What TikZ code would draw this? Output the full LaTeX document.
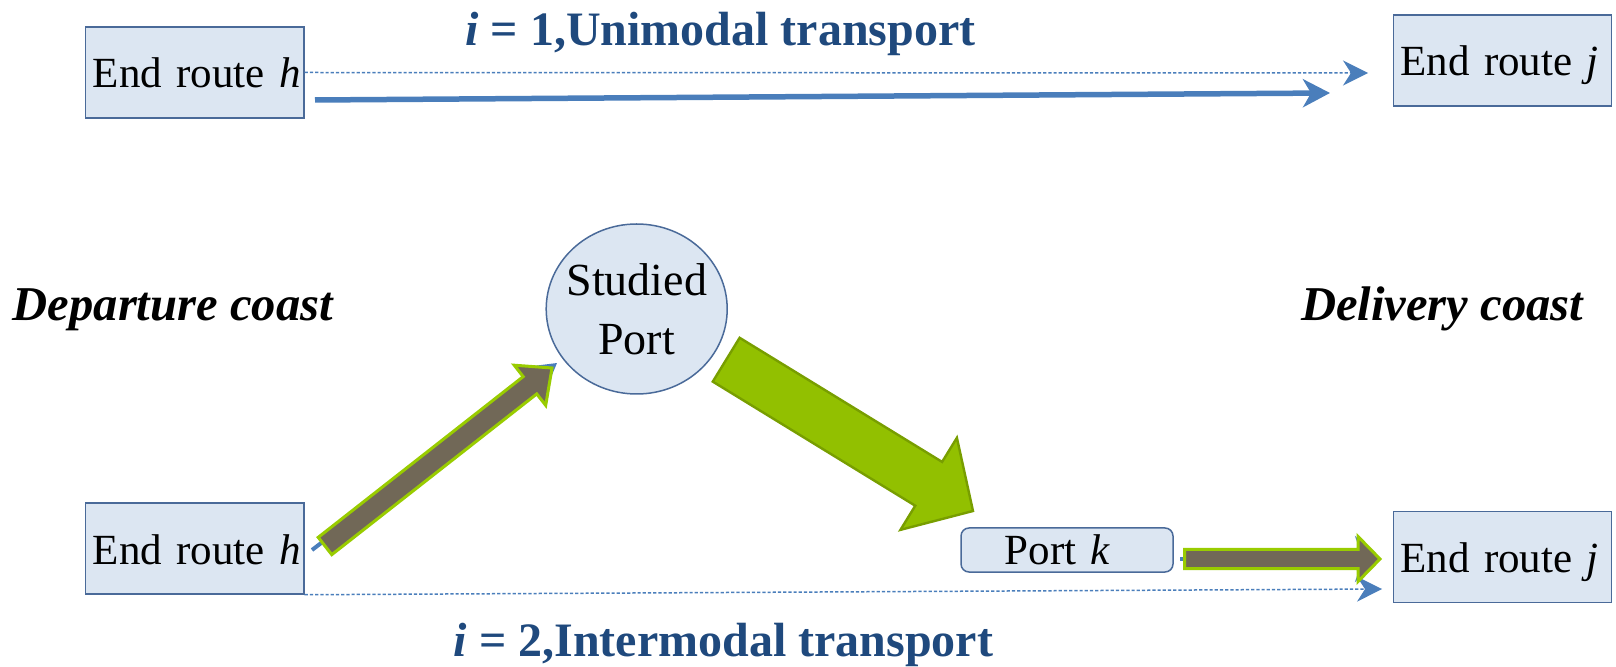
\documentclass[tikz,border=0pt]{standalone}
\usepackage{fontspec}
\setmainfont{Liberation Serif}[UprightFont=*, BoldFont=* Bold,
  ItalicFont=* Italic, BoldItalicFont=* Bold Italic]
\usetikzlibrary{calc,arrows.meta,shapes.geometric}

\definecolor{boxfill}{HTML}{DCE6F2}
\definecolor{boxline}{HTML}{4A6A99}
\definecolor{routeblue}{HTML}{4A7EBB}
\definecolor{titleblue}{HTML}{1F497D}
\definecolor{legbrown}{HTML}{716857}
\definecolor{leggreen}{HTML}{99CC00}
\definecolor{hubgreen}{HTML}{92C000}
\definecolor{hubedge}{HTML}{789E00}

% block arrow: style, tail, tip, half shaft width, half head width, head length
\newcommand\blockarrow[6]{%
  \coordinate (ba-base) at ($(#3)!#6!(#2)$);
  \draw[#1] ($(#2)!#4!90:(#3)$) -- ($(ba-base)!#4!90:(#3)$)
    -- ($(ba-base)!#5!90:(#3)$) -- (#3)
    -- ($(ba-base)!#5!-90:(#3)$) -- ($(ba-base)!#4!-90:(#3)$)
    -- ($(#2)!#4!-90:(#3)$) -- cycle;}

\tikzset{
  routebox/.style={draw=boxline, fill=boxfill, line width=0.75pt,
    minimum height=45.5pt, text width=102pt, align=left,
    inner xsep=3.6pt, inner ysep=0pt, text height=16pt, text depth=0.5pt,
    font=\fontsize{21.5}{24}\selectfont},
  portbox/.style={draw=boxline, fill=boxfill, line width=0.75pt,
    rounded corners=4pt, minimum height=22pt, text width=62.4pt,
    align=left, inner xsep=21.8pt, inner ysep=0pt, text height=15.5pt,
    text depth=0.5pt, font=\fontsize{21.5}{24}\selectfont},
  hub/.style={draw=boxline, fill=boxfill, line width=0.75pt, ellipse,
    minimum width=90.5pt, minimum height=85pt, inner sep=0pt},
  hubtext/.style={inner sep=0pt, align=center,
    font=\fontsize{23}{29.5}\selectfont},
  titletext/.style={anchor=base west, inner sep=0pt, text=titleblue,
    font=\fontsize{24}{28}\selectfont\bfseries},
  coast/.style={anchor=base west, inner sep=0pt,
    font=\fontsize{24.3}{28}\selectfont\bfseries\itshape},
  dotroute/.style={routeblue, line width=0.75pt, dash pattern=on 1.6pt off 1pt,
    -{Stealth[length=12.5pt, width=12.5pt, inset=4pt]}},
  mainroute/.style={routeblue, line width=2.75pt,
    -{Stealth[length=13.5pt, width=14pt, inset=4pt]}},
  legarrow/.style={fill=legbrown, draw=leggreen, line width=1.5pt},
  hubarrow/.style={fill=hubgreen, draw=hubedge, line width=1.2pt},
}

\begin{document}
\begin{tikzpicture}[x=0.5pt, y=-0.5pt]
\useasboundingbox (0,0) rectangle (1616,667);

% unimodal case
\node[routebox] (h1) at (194.75,72.5) {\mbox{End route \textit{h}}};
\node[routebox] (j1) at (1502.5,60.5) {\mbox{End route \textit{j}}};
\node[titletext] (t1) at (465,46) {\textit{i} = 1,Unimodal transport};
\coordinate (d1) at (1368,73);
\coordinate (m1s) at (315,100);
\coordinate (m1e) at (1330,93);
\draw[dotroute] (h1.east) -- (d1);
\draw[mainroute] (m1s) -- (m1e);

% intermodal case
\node[coast] (dep) at (12.4,321) {Departure coast};
\node[coast] (del) at (1300.6,321) {Delivery coast};
\node[hub] (sp) at (636.7,309) {};
\node[hubtext] (spt) at (sp.center) {Studied\\Port};
\node[routebox] (h2) at (194.75,548.5) {\mbox{End route \textit{h}}};
\node[routebox] (j2) at (1502.5,557) {\mbox{End route \textit{j}}};
\node[portbox] (pk) at (1067,550) {\mbox{Port \textit{k}}};
\node[titletext] (t2) at (453.5,656) {\textit{i} = 2,Intermodal transport};

\coordinate (d2) at (1382,589);
\draw[dotroute] (h2.south east) -- (d2);

% feeder legs (line routes under the block arrows)
\coordinate (b1s) at (312,550);
\coordinate (b1e) at (557,363);
\coordinate (b2s) at (1180,559);
\coordinate (b2e) at (1379,559);
\draw[routeblue, line width=2pt, -{Stealth[length=13pt, width=15pt, inset=4pt]}] (b1s) -- (b1e);
\draw[routeblue, line width=2pt, -{Stealth[length=12pt, width=23pt, inset=4pt]}] (b2s) -- (b2e);

% block arrows
\coordinate (l1s) at (325,546);
\coordinate (l1e) at (552,368);
\blockarrow{legarrow}{l1s}{l1e}{5.5pt}{12.75pt}{14pt}
\coordinate (g1s) at (726.2,359.7);
\coordinate (g1e) at (973,511);
\blockarrow{hubarrow}{g1s}{g1e}{12.85pt}{27pt}{26pt}
\coordinate (l2s) at (1184.5,559);
\coordinate (l2e) at (1380,559);
\blockarrow{legarrow}{l2s}{l2e}{4.75pt}{11.25pt}{11pt}
\end{tikzpicture}
\end{document}
